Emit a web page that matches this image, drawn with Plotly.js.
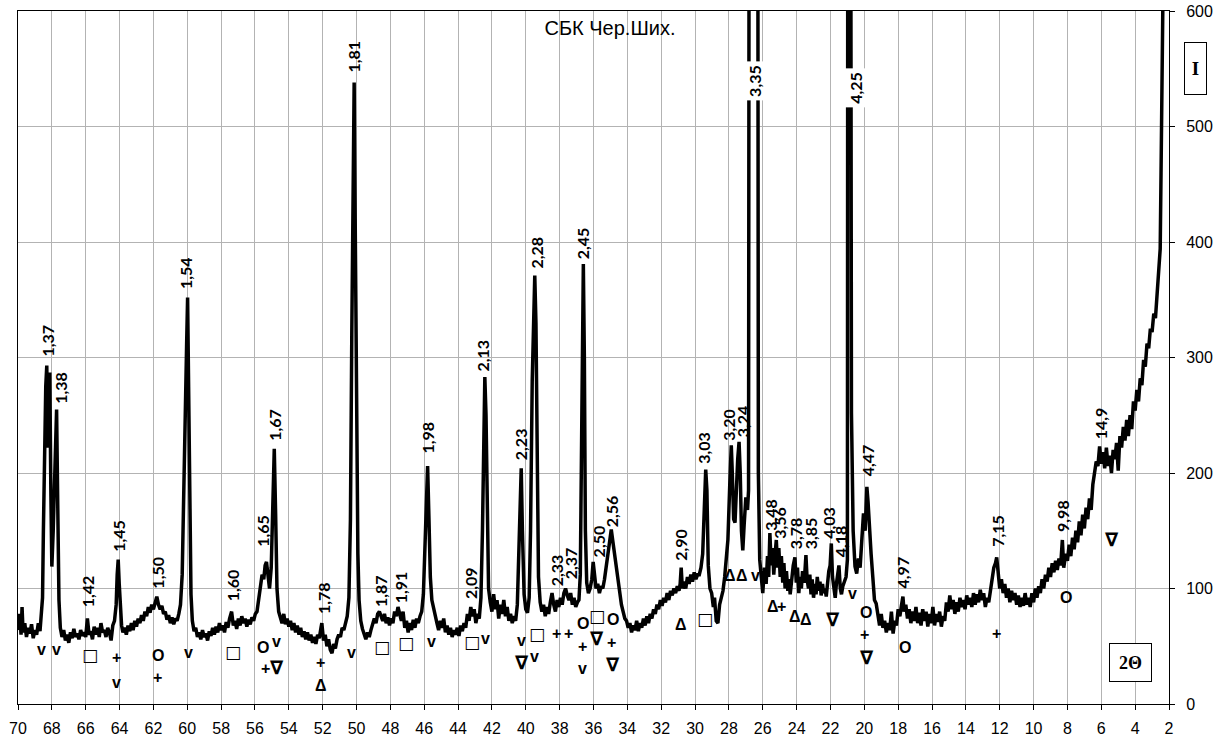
<!DOCTYPE html>
<html><head><meta charset="utf-8">
<script src="https://cdn.plot.ly/plotly-3.0.1.min.js"></script>
<style>html,body{margin:0;padding:0;background:#fff}#chart{width:1215px;height:739px}</style>
</head><body><div id="chart"></div>
<script>
// ---- diffractogram: [2theta, intensity] ----
const scan70to59 = [[70.0,64],[69.9,78],[69.82,60],[69.76,84],[69.7,62],[69.6,70],[69.5,58],[69.4,66],[69.3,61],[69.2,69],[69.1,57],[69.0,64],[68.9,60],[68.8,70],[68.7,63],[68.62,78],[68.55,92],[68.5,150],[68.42,235],[68.36,275],[68.3,293],[68.24,222],[68.18,250],[68.12,287],[68.06,185],[68.0,119],[67.92,150],[67.82,205],[67.72,255],[67.65,170],[67.58,90],[67.5,66],[67.4,58],[67.3,64],[67.2,55],[67.1,60],[67.0,53],[66.9,62],[66.8,57],[66.7,65],[66.6,58],[66.5,61],[66.4,56],[66.3,64],[66.2,59],[66.1,62],[66.0,58],[65.9,74],[65.8,60],[65.7,63],[65.6,56],[65.5,67],[65.4,60],[65.3,66],[65.2,58],[65.1,70],[65.0,62],[64.9,64],[64.8,58],[64.7,66],[64.6,62],[64.5,55],[64.4,68],[64.3,72],[64.2,86],[64.14,112],[64.08,125],[64.02,104],[63.95,80],[63.88,68],[63.8,62],[63.7,66],[63.6,60],[63.5,68],[63.4,63],[63.3,70],[63.2,64],[63.1,72],[63.0,67],[62.9,74],[62.8,70],[62.7,77],[62.6,72],[62.5,80],[62.4,76],[62.3,84],[62.2,79],[62.1,86],[62.0,82],[61.9,89],[61.8,93],[61.7,86],[61.6,82],[61.5,85],[61.4,78],[61.3,80],[61.2,73],[61.1,77],[61.0,70],[60.9,75],[60.8,69],[60.7,74],[60.6,72],[60.5,78],[60.4,86],[60.3,112],[60.22,185],[60.15,226],[60.1,255],[60.04,310],[59.98,352],[59.92,270],[59.85,150],[59.78,95],[59.7,72],[59.6,63],[59.5,66],[59.4,58],[59.3,62],[59.2,56],[59.1,64],[59.0,58]];
const scan59to49 = [[58.9,61],[58.8,55],[58.7,63],[58.6,59],[58.5,66],[58.4,60],[58.3,67],[58.2,62],[58.1,70],[58.0,64],[57.9,68],[57.8,62],[57.7,71],[57.6,66],[57.5,74],[57.38,80],[57.28,68],[57.18,72],[57.08,65],[56.98,74],[56.88,68],[56.78,76],[56.68,70],[56.58,74],[56.48,67],[56.38,73],[56.28,69],[56.18,75],[56.08,72],[55.98,78],[55.88,80],[55.78,90],[55.68,98],[55.58,112],[55.48,108],[55.4,120],[55.32,123],[55.24,114],[55.14,100],[55.04,118],[54.94,175],[54.86,221],[54.78,165],[54.7,100],[54.6,80],[54.5,76],[54.4,70],[54.3,78],[54.2,69],[54.1,74],[54.0,67],[53.9,72],[53.8,64],[53.7,70],[53.6,62],[53.5,68],[53.4,60],[53.3,66],[53.2,58],[53.1,63],[53.0,56],[52.9,62],[52.8,55],[52.7,60],[52.6,53],[52.5,58],[52.4,52],[52.3,60],[52.2,57],[52.1,66],[52.05,70],[51.95,55],[51.85,60],[51.75,50],[51.65,56],[51.55,47],[51.45,44],[51.35,52],[51.25,48],[51.15,56],[51.05,60],[50.95,58],[50.85,66],[50.75,64],[50.65,72],[50.55,76],[50.45,92],[50.36,160],[50.28,320],[50.2,490],[50.14,538],[50.08,420],[50.0,250],[49.92,130],[49.85,90],[49.75,72],[49.65,65],[49.55,60],[49.45,56],[49.35,62],[49.25,58],[49.15,64],[49.05,68]];
const scan49to40 = [[48.95,74],[48.85,70],[48.75,78],[48.65,80],[48.55,76],[48.45,72],[48.35,78],[48.25,70],[48.15,75],[48.05,68],[47.95,74],[47.85,70],[47.75,80],[47.65,76],[47.55,84],[47.45,78],[47.35,72],[47.25,80],[47.15,66],[47.05,72],[46.95,62],[46.85,70],[46.75,64],[46.65,73],[46.55,66],[46.45,74],[46.35,70],[46.25,76],[46.15,80],[46.05,95],[45.96,135],[45.88,185],[45.8,206],[45.72,160],[45.64,110],[45.55,90],[45.45,82],[45.35,75],[45.25,70],[45.15,64],[45.05,72],[44.95,66],[44.85,74],[44.75,62],[44.65,68],[44.55,60],[44.45,66],[44.35,58],[44.25,64],[44.15,60],[44.05,66],[43.95,59],[43.85,68],[43.75,63],[43.65,70],[43.55,66],[43.45,78],[43.35,72],[43.25,84],[43.15,76],[43.05,82],[42.95,70],[42.85,78],[42.75,74],[42.65,92],[42.56,150],[42.48,235],[42.42,283],[42.35,250],[42.28,150],[42.2,100],[42.1,88],[42.0,80],[41.9,95],[41.8,82],[41.7,90],[41.6,74],[41.5,86],[41.4,78],[41.3,90],[41.2,76],[41.1,84],[41.0,72],[40.9,78],[40.8,70],[40.7,76],[40.6,72],[40.5,86],[40.42,125],[40.34,185],[40.27,204],[40.2,150],[40.1,95],[40.0,82]];
const scan40to30 = [[39.9,79],[39.8,92],[39.72,150],[39.62,280],[39.54,345],[39.47,371],[39.4,330],[39.32,200],[39.25,110],[39.15,88],[39.05,80],[38.95,86],[38.85,76],[38.75,84],[38.65,78],[38.55,88],[38.45,96],[38.35,86],[38.25,80],[38.15,90],[38.05,84],[37.95,92],[37.85,86],[37.75,96],[37.65,100],[37.55,94],[37.45,90],[37.35,96],[37.25,86],[37.15,92],[37.05,84],[36.95,88],[36.86,90],[36.78,112],[36.72,200],[36.66,340],[36.6,381],[36.54,300],[36.48,150],[36.4,105],[36.3,96],[36.2,100],[36.1,108],[36.02,123],[35.95,110],[35.85,100],[35.75,104],[35.65,96],[35.55,102],[35.45,100],[35.35,108],[35.25,118],[35.15,130],[35.05,142],[34.95,151],[34.85,140],[34.75,128],[34.65,118],[34.55,106],[34.45,96],[34.35,86],[34.25,80],[34.15,74],[34.05,72],[33.95,66],[33.85,70],[33.75,62],[33.65,68],[33.55,64],[33.45,72],[33.35,63],[33.25,70],[33.15,66],[33.05,74],[32.95,68],[32.85,76],[32.75,70],[32.65,78],[32.55,74],[32.45,82],[32.35,78],[32.25,86],[32.15,82],[32.05,90],[31.95,85],[31.85,92],[31.75,88],[31.65,96],[31.55,90],[31.45,98],[31.35,94],[31.25,100],[31.15,96],[31.05,102],[30.95,98],[30.88,104],[30.82,118],[30.75,100],[30.65,106],[30.55,100],[30.45,110],[30.35,104],[30.25,112],[30.15,106],[30.05,114]];
const scan30to20 = [[29.95,108],[29.85,112],[29.75,112],[29.65,118],[29.55,130],[29.45,180],[29.37,203],[29.3,185],[29.22,120],[29.12,100],[29.02,96],[28.92,84],[28.85,92],[28.75,72],[28.65,70],[28.55,86],[28.45,92],[28.35,98],[28.25,110],[28.15,125],[28.06,142],[27.95,190],[27.86,224],[27.8,200],[27.72,160],[27.64,157],[27.56,190],[27.48,212],[27.4,227],[27.33,200],[27.26,150],[27.18,133],[27.1,155],[27.0,179],[26.9,168],[26.84,185],[26.79,1000],[26.55,1600],[26.31,1000],[26.26,200],[26.18,125],[26.1,113],[26.0,96],[25.9,118],[25.8,104],[25.72,128],[25.65,110],[25.58,148],[25.5,120],[25.42,135],[25.35,112],[25.27,130],[25.2,142],[25.12,118],[25.05,135],[24.97,110],[24.9,128],[24.82,105],[24.75,122],[24.68,100],[24.6,115],[24.52,98],[24.45,108],[24.38,95],[24.3,110],[24.2,120],[24.1,127],[24.02,105],[23.95,118],[23.87,96],[23.8,110],[23.72,100],[23.65,115],[23.55,105],[23.45,129],[23.38,108],[23.3,100],[23.22,112],[23.15,95],[23.08,108],[23.0,92],[22.92,104],[22.85,95],[22.78,110],[22.7,98],[22.62,106],[22.55,94],[22.47,104],[22.4,96],[22.32,100],[22.25,93],[22.17,108],[22.1,115],[22.02,120],[21.95,139],[21.88,110],[21.8,100],[21.72,92],[21.65,104],[21.58,110],[21.5,120],[21.42,100],[21.35,95],[21.27,102],[21.18,105],[21.08,110],[21.0,125],[20.96,1200],[20.88,1600],[20.81,700],[20.76,252],[20.66,150],[20.55,119],[20.45,113],[20.35,126],[20.25,118],[20.15,140],[20.05,165]];
const scan20to2 = [[19.95,150],[19.85,188],[19.78,175],[19.7,150],[19.6,130],[19.5,110],[19.4,90],[19.3,87],[19.2,75],[19.1,68],[19.0,78],[18.9,66],[18.8,72],[18.7,62],[18.6,70],[18.5,64],[18.4,80],[18.3,61],[18.2,72],[18.1,68],[18.0,82],[17.9,76],[17.8,86],[17.72,93],[17.65,80],[17.55,86],[17.45,74],[17.35,82],[17.25,70],[17.15,80],[17.05,72],[16.95,84],[16.85,70],[16.75,79],[16.65,68],[16.55,82],[16.45,72],[16.35,80],[16.25,67],[16.15,78],[16.05,70],[15.95,84],[15.85,68],[15.75,78],[15.65,71],[15.55,80],[15.45,67],[15.35,76],[15.25,72],[15.15,88],[15.05,80],[14.95,94],[14.85,82],[14.75,90],[14.65,78],[14.55,88],[14.45,80],[14.35,92],[14.25,84],[14.15,90],[14.05,82],[13.95,94],[13.85,86],[13.75,92],[13.65,84],[13.55,96],[13.45,86],[13.35,95],[13.25,88],[13.15,99],[13.05,90],[12.95,96],[12.85,84],[12.75,92],[12.65,88],[12.55,100],[12.45,112],[12.35,118],[12.25,122],[12.18,127],[12.1,115],[12.0,100],[11.9,108],[11.8,96],[11.7,104],[11.6,92],[11.5,100],[11.4,88],[11.3,98],[11.2,90],[11.1,96],[11.0,86],[10.9,94],[10.8,84],[10.7,92],[10.6,85],[10.5,96],[10.4,86],[10.3,92],[10.2,84],[10.1,96],[10.0,88],[9.9,100],[9.8,92],[9.7,102],[9.6,96],[9.5,108],[9.4,100],[9.3,112],[9.2,106],[9.1,118],[9.0,110],[8.9,122],[8.8,114],[8.7,124],[8.6,116],[8.5,126],[8.4,120],[8.3,142],[8.22,118],[8.1,130],[8.0,124],[7.9,138],[7.8,128],[7.7,144],[7.6,134],[7.5,150],[7.4,140],[7.3,158],[7.2,146],[7.1,164],[7.0,152],[6.9,170],[6.8,160],[6.7,178],[6.6,168],[6.5,190],[6.4,200],[6.3,210],[6.2,206],[6.1,223],[6.0,208],[5.9,218],[5.8,204],[5.7,222],[5.6,206],[5.5,215],[5.4,200],[5.3,220],[5.2,212],[5.1,226],[5.0,202],[4.9,232],[4.8,222],[4.7,240],[4.6,228],[4.5,246],[4.4,232],[4.3,250],[4.2,238],[4.1,262],[4.0,254],[3.9,272],[3.8,262],[3.7,282],[3.6,276],[3.5,298],[3.4,292],[3.3,312],[3.2,308],[3.1,325],[3.0,322],[2.9,338],[2.8,334],[2.7,357],[2.58,380],[2.52,394],[2.47,460],[2.4,560],[2.33,650]];

// ---- d-spacing labels (text, 2theta, intensity at label foot) ----
const dText  = ['1,37','1,38','1,42','1,45','1,50','1,54','1,60','1,65','1,67','1,78','1,81','1,87','1,91','1,98','2,09','2,13','2,23','2,28','2,33','2,37','2,45','2,50','2,56','2,90','3,03','3,20','3,24','3,35','3,48','3,56','3,78','3,85','4,03','4,18','4,25','4,47','4,97','7,15','9,98','14,9'];
const dTheta = [68.23,67.46,65.92,64.03,61.73,60.1,57.36,55.6,54.82,51.98,50.2,48.62,47.4,45.78,43.3,42.53,40.3,39.35,38.22,37.34,36.63,35.68,34.92,30.84,29.48,28.0,27.23,26.53,25.52,24.99,24.1,23.16,22.1,21.39,20.56,19.8,17.73,12.18,8.33,6.04];
const dFoot  = [300,259,83,131,99,358,88,135,227,77,546,83,86,216,90,287,210,376,101,107,384,126,152,123,207,227,230,522,149,142,133,133,142,126,516,196,99,135,148,228];
const boxedLabels = ['3,35','4,25'];

// ---- phase symbols (symbol, 2theta, intensity) ----
const symText  = ['v','v','□','+','v','O','+','v','□','O','v','+','∇','+','Δ','v','□','□','v','□','v','v','∇','v','□','+','+','O','+','v','□','∇','O','+','∇','Δ','□','Δ','Δ','v','Δ','+','Δ','Δ','∇','v','O','+','∇','O','+','O','∇'];
const symTheta = [68.6,67.7,65.75,64.17,64.17,61.73,61.73,59.95,57.3,55.55,54.75,55.4,54.7,52.1,52.1,50.3,48.5,47.1,45.55,43.2,42.4,40.25,40.2,39.5,39.35,38.2,37.45,36.6,36.65,36.65,35.8,35.8,34.85,34.95,34.85,30.84,29.42,27.95,27.25,26.41,25.4,24.9,24.1,23.42,21.85,20.7,19.9,20.0,19.85,17.6,12.17,8.1,5.38];
const symY     = [47,47,42,40,19,42,23,45,45,49,54,31,32,36,16,45,49,53,54,54,57,55,36,41,61,61,61,70,50,31,76,57,73,53,35,69,74,111,111,111,84,84,76,73,74,96,79,60,41,49,61,92,143];

const chartTitle = 'СБК Чер.Ших.';
const xTitleBox = '2Θ';
const yTitleBox = 'I';

// ---- build ----
const allPts = [].concat(scan70to59, scan59to49, scan49to40, scan40to30, scan30to20, scan20to2);
const x = allPts.map(p => p[0]);
const y = allPts.map(p => p[1]);

const trace = {
  type: 'scatter', mode: 'lines', x: x, y: y,
  line: {color: '#000', width: 3.5},
  hoverinfo: 'skip'
};

const symSize = {'□': 17, '∇': 19, 'Δ': 16};
const symFamily = {'□': '"DejaVu Sans", sans-serif', '∇': '"DejaVu Sans", sans-serif'};

const ann = [];
dText.forEach((t, i) => {
  const boxed = boxedLabels.includes(t);
  ann.push({
    xref: 'x', yref: 'y', x: dTheta[i], y: dFoot[i], text: t,
    showarrow: false, textangle: -90, xanchor: 'center', yanchor: 'bottom',
    font: {family: 'Lato, "DejaVu Sans", sans-serif', size: 16, color: '#000', weight: 700},
    bgcolor: boxed ? '#fff' : 'rgba(0,0,0,0)', borderpad: boxed ? 3 : 0
  });
});
symText.forEach((t, i) => {
  ann.push({
    xref: 'x', yref: 'y', x: symTheta[i], y: symY[i], text: t,
    showarrow: false, xanchor: 'center', yanchor: 'middle',
    font: {family: symFamily[t] || '"Liberation Sans", "DejaVu Sans", sans-serif',
           size: symSize[t] || 16, color: '#000', weight: 700},
    borderpad: 0
  });
});
ann.push({
  xref: 'paper', yref: 'paper', x: (1130.5 - 18) / 1151, y: (704 - 662.5) / 693,
  text: '<b>' + xTitleBox + '</b>', showarrow: false, xanchor: 'center', yanchor: 'middle',
  font: {family: '"Liberation Serif", "DejaVu Serif", serif', size: 18, color: '#000'},
  bordercolor: '#000', borderwidth: 1, borderpad: 0, bgcolor: '#fff', width: 41, height: 37
});
ann.push({
  xref: 'paper', yref: 'paper', x: (1195.5 - 18) / 1151, y: (704 - 68.5) / 693,
  text: '<b>' + yTitleBox + '</b>', showarrow: false, xanchor: 'center', yanchor: 'middle',
  font: {family: '"Liberation Serif", "DejaVu Serif", serif', size: 19, color: '#000'},
  bordercolor: '#000', borderwidth: 1, borderpad: 0, bgcolor: '#fff', width: 21, height: 51
});

const xFont = {family: '"Liberation Sans", Arial, sans-serif', size: 16, color: '#000'};
const yFont = {family: '"Liberation Sans", Arial, sans-serif', size: 16, color: '#000'};
const layout = {
  width: 1215, height: 739,
  margin: {l: 18, r: 46, t: 11, b: 35},
  paper_bgcolor: '#fff', plot_bgcolor: '#fff',
  showlegend: false,
  title: {text: chartTitle, x: 610 / 1215, xanchor: 'center', y: 1 - 28 / 739, yanchor: 'middle',
          xref: 'container', yref: 'container',
          font: {family: '"Liberation Sans", Arial, sans-serif', size: 20, color: '#000'}},
  xaxis: {range: [70, 2], tick0: 0, dtick: 2, showgrid: true, gridcolor: '#b3b3b3', gridwidth: 1,
          zeroline: false, showline: true, linecolor: '#000', linewidth: 1, mirror: true,
          ticks: 'outside', ticklen: 5, tickcolor: '#000', tickfont: xFont, ticklabelstandoff: 5},
  yaxis: {range: [0, 600], tick0: 0, dtick: 100, side: 'right', showgrid: true, gridcolor: '#b3b3b3', gridwidth: 1,
          zeroline: false, showline: true, linecolor: '#000', linewidth: 1, mirror: true,
          ticks: 'outside', ticklen: 5, tickcolor: '#000', tickfont: yFont, ticklabelstandoff: 8},
  annotations: ann
};

Plotly.newPlot('chart', [trace], layout, {displayModeBar: false, staticPlot: true});
</script></body></html>
